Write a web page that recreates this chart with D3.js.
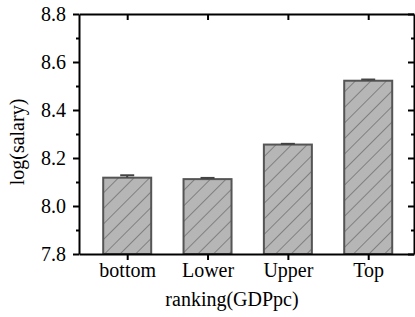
<!DOCTYPE html>
<html>
<head>
<meta charset="utf-8">
<script src="https://cdn.jsdelivr.net/npm/d3@7"></script>
<style>
  body { margin: 0; background: #fff; }
  svg { display: block; }
  svg text { font-family: 'Liberation Serif', 'Times New Roman', serif !important; }
</style>
</head>
<body>
<div id="chart"></div>
<script>
// data
var categories = ["bottom", "Lower", "Upper", "Top"];
var means = [8.118, 8.112, 8.256, 8.522];
var errors = [0.010, 0.005, 0.003, 0.005];
var yTicks = [7.8, 8.0, 8.2, 8.4, 8.6, 8.8];
var yMinor = [7.9, 8.1, 8.3, 8.5, 8.7];

var W = 415, H = 317;
var padL = 79, padR = 414, padT = 14, padB = 254;
var fontSize = 20;
var serif = "'Liberation Serif', 'Times New Roman', serif";

var svg = d3.select("#chart").append("svg")
    .attr("width", W)
    .attr("height", H);

// hatch
var defs = svg.append("defs");
defs.append("pattern")
    .attr("id", "hatch")
    .attr("patternUnits", "userSpaceOnUse")
    .attr("width", 11)
    .attr("height", 11)
    .attr("patternTransform", "rotate(45)")
  .append("line")
    .attr("x1", 0).attr("y1", 0)
    .attr("x2", 0).attr("y2", 11)
    .attr("stroke", "#5a5a5a")
    .attr("stroke-width", 1.2);

var x = d3.scaleLinear().domain([0.4, 4.57]).range([padL, padR]);
var y = d3.scaleLinear().domain([7.8, 8.8]).range([padB, padT]);
var barW = 48;

var rows = categories.map(function(c, i){
    return {cat: c, pos: i + 1, mean: means[i], err: errors[i]};
});

// bars
var bars = svg.append("g");
rows.forEach(function(d){
    var x0 = x(d.pos) - barW / 2;
    bars.append("rect")
	.attr("x", x0).attr("y", y(d.mean))
	.attr("width", barW).attr("height", y(7.8) - y(d.mean))
	.attr("fill", "#b6b6b6");
    bars.append("rect")
	.attr("x", x0).attr("y", y(d.mean))
	.attr("width", barW).attr("height", y(7.8) - y(d.mean))
	.attr("fill", "url(#hatch)")
	.attr("stroke", "#555")
	.attr("stroke-width", 2);
    // error bar (upper half only shows)
    bars.append("line")
	.attr("x1", x(d.pos)).attr("x2", x(d.pos))
	.attr("y1", y(d.mean)).attr("y2", y(d.mean + d.err))
	.attr("stroke", "#444").attr("stroke-width", 2);
    bars.append("line")
	.attr("x1", x(d.pos) - 7).attr("x2", x(d.pos) + 7)
	.attr("y1", y(d.mean + d.err)).attr("y2", y(d.mean + d.err))
	.attr("stroke", "#444").attr("stroke-width", 2);
});

function styleAxis(g){
    g.attr("font-family", null).attr("font-size", null);
    g.selectAll("path").attr("stroke", "#000").attr("stroke-width", 2);
    g.selectAll("line").attr("stroke", "#000").attr("stroke-width", 2);
    g.selectAll("text")
	.style("font-family", serif)
	.style("font-size", fontSize + "px")
	.attr("fill", "#000");
}

// left axis
var gl = svg.append("g").attr("transform", "translate(" + padL + ",0)")
    .call(d3.axisLeft(y).tickValues(yTicks).tickFormat(d3.format(".1f"))
	  .tickSize(6).tickSizeOuter(0).tickPadding(7));
styleAxis(gl);
var glm = svg.append("g").attr("transform", "translate(" + padL + ",0)")
    .call(d3.axisLeft(y).tickValues(yMinor).tickFormat("").tickSize(3).tickSizeOuter(0));
styleAxis(glm);
glm.select("path").remove();

// right axis (ticks inward)
var gr = svg.append("g").attr("transform", "translate(" + padR + ",0)")
    .call(d3.axisRight(y).tickValues(yTicks).tickFormat("").tickSize(-6).tickSizeOuter(0));
styleAxis(gr);
var grm = svg.append("g").attr("transform", "translate(" + padR + ",0)")
    .call(d3.axisRight(y).tickValues(yMinor).tickFormat("").tickSize(-3).tickSizeOuter(0));
styleAxis(grm);
grm.select("path").remove();

// bottom axis
var gb = svg.append("g").attr("transform", "translate(0," + padB + ")")
    .call(d3.axisBottom(x).tickValues(rows.map(function(d){ return d.pos; }))
	  .tickFormat(function(v){ return categories[v - 1]; })
	  .tickSize(6).tickSizeOuter(0).tickPadding(3));
styleAxis(gb);

// top axis (ticks inward)
var gt = svg.append("g").attr("transform", "translate(0," + padT + ")")
    .call(d3.axisTop(x).tickValues(rows.map(function(d){ return d.pos; }))
	  .tickFormat("").tickSize(-6).tickSizeOuter(0));
styleAxis(gt);

// titles
svg.append("text")
    .attr("x", 232).attr("y", 306)
    .attr("text-anchor", "middle")
    .style("font-family", serif)
    .style("font-size", fontSize + "px")
    .text("ranking(GDPpc)");

svg.append("text")
    .attr("transform", "translate(24,142) rotate(-90)")
    .attr("text-anchor", "middle")
    .style("font-family", serif)
    .style("font-size", fontSize + "px")
    .text("log(salary)");
</script>
</body>
</html>
